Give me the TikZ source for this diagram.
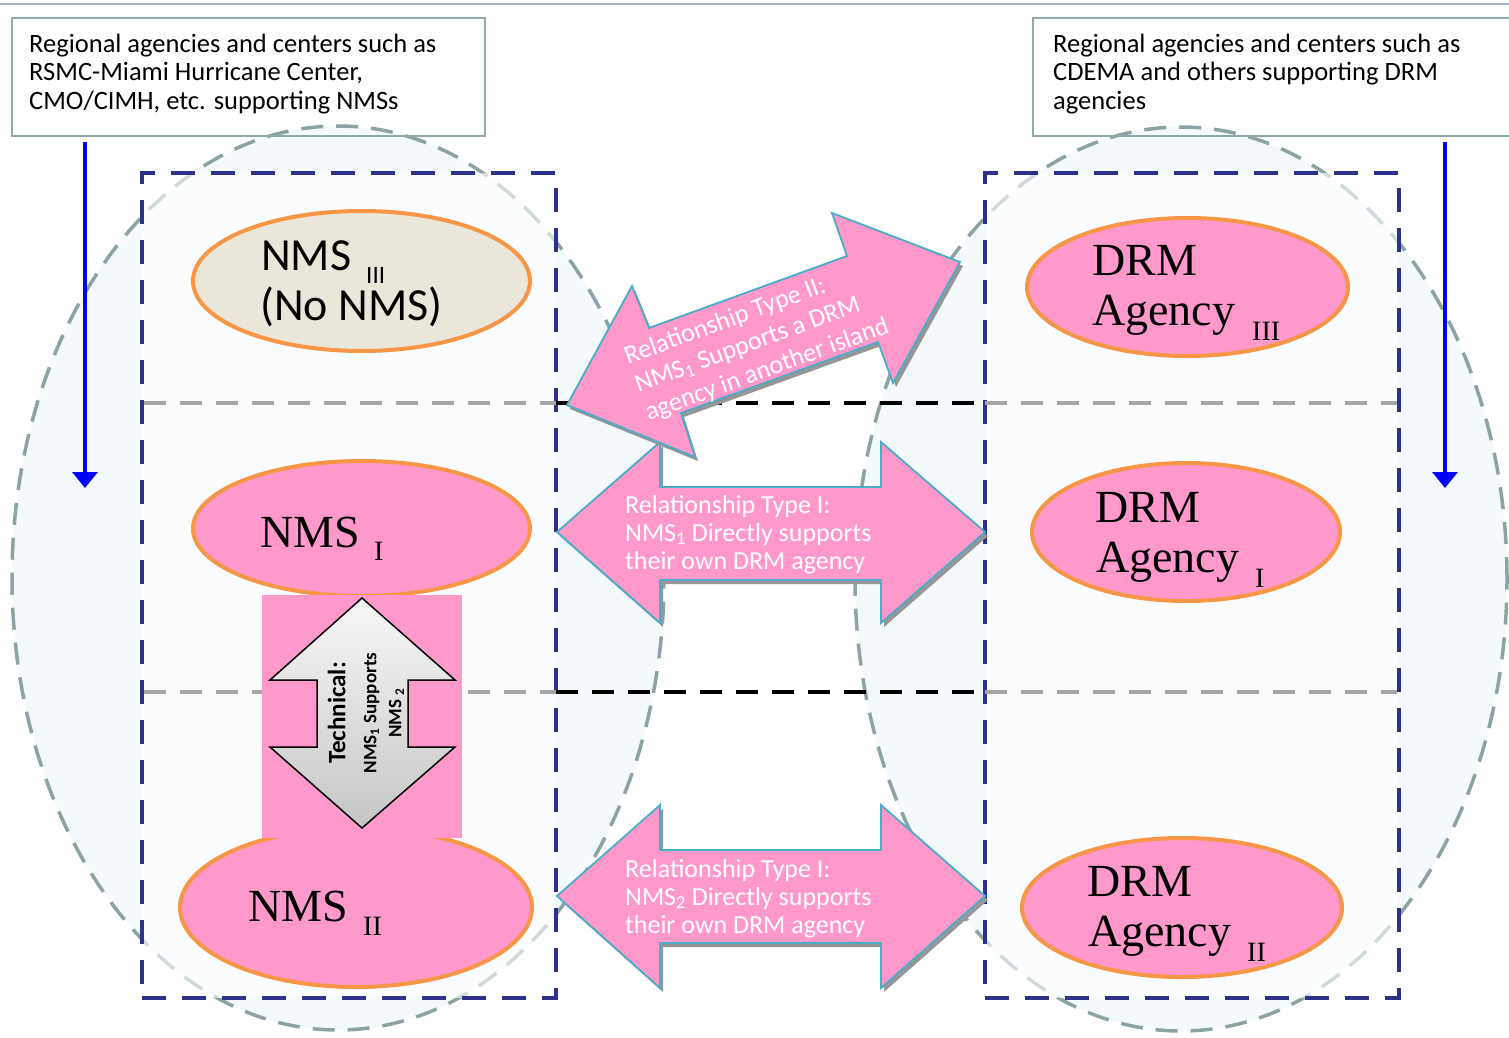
\documentclass[tikz,border=0pt]{standalone}
\usepackage{fontspec}
\setmainfont{Liberation Serif}
\newfontfamily\calfont{Carlito}
\usetikzlibrary{shapes.geometric,arrows.meta}
\definecolor{pinkfill}{RGB}{255,153,204}
\definecolor{orangeb}{RGB}{247,150,70}
\definecolor{beige}{RGB}{234,230,218}
\definecolor{tealb}{RGB}{75,172,198}
\definecolor{navy}{RGB}{46,49,140}
\definecolor{ellgray}{RGB}{140,163,163}
\definecolor{ellfill}{RGB}{244,249,251}
\definecolor{boxb}{RGB}{143,170,170}
\definecolor{topline}{RGB}{167,185,207}
\definecolor{shadowg}{RGB}{150,150,150}
\definecolor{midgray}{RGB}{166,166,166}
\tikzset{
  regbox/.style={draw=boxb, line width=2pt, inner sep=0pt, outer sep=0pt},
  regtext/.style={anchor=base west, inner sep=0pt, font=\calfont\fontsize{26.5}{28}\selectfont},
  bigisl/.style={ellipse, draw=ellgray, fill=ellfill, line width=3.5pt, dash pattern=on 22pt off 13pt, inner sep=0pt, minimum width=652pt, minimum height=904pt},
  navybox/.style={draw=navy, line width=4.5pt, dash pattern=on 24pt off 16pt, fill=white, fill opacity=0.6, draw opacity=1, inner sep=0pt, outer sep=0pt, minimum width=414pt, minimum height=825pt},
  graydash/.style={draw=midgray, line width=4pt, dash pattern=on 22pt off 14pt},
  blackdash/.style={draw=black, line width=4pt, dash pattern=on 22pt off 14pt},
  agency/.style={ellipse, draw=orangeb, line width=4pt, fill=pinkfill, inner sep=0pt},
  serifbig/.style={anchor=base west, inner sep=0pt, font=\fontsize{46}{50}\selectfont},
  serifsub/.style={anchor=base west, inner sep=0pt, font=\fontsize{28}{30}\selectfont},
  bluearrow/.style={draw=blue, line width=3.5pt, -{Triangle[width=25pt,length=16pt]}},
  relarrow/.style={fill=pinkfill, draw=tealb, line width=1.8pt, line join=miter},
  relshadow/.style={fill=shadowg},
  reltext/.style={anchor=base west, inner sep=0pt, text=white, font=\calfont\fontsize{26}{28}\selectfont},
}
\begin{document}
\begin{tikzpicture}[x=1pt,y=-1pt]
\useasboundingbox (0,0) rectangle (1509,1037);
% top rule
\coordinate (tl1) at (0,4);
\coordinate (tl2) at (1509,4);
\draw[topline, line width=2pt] (tl1) -- (tl2);
% big islands
\node[bigisl] (islL) at (338,578) {};
\node[bigisl] (islR) at (1181,579) {};
% regional boxes
\node[regbox, minimum width=473pt, minimum height=118pt] (regL) at (248.5,77) {};
\node[regbox, minimum width=477pt, minimum height=118pt] (regR) at (1271.5,77) {};
\node[regtext] (rl1) at (29,52) {Regional agencies and centers such as};
\node[regtext] (rl2) at (29,80.5) {RSMC-Miami Hurricane Center,};
\node[regtext] (rl3) at (29,109) {CMO/CIMH, etc. supporting NMSs};
\node[regtext] (rr1) at (1053,52) {Regional agencies and centers such as};
\node[regtext] (rr2) at (1053,80.5) {CDEMA and others supporting DRM};
\node[regtext] (rr3) at (1053,109) {agencies};
% blue arrows
\coordinate (bla) at (85,142);
\coordinate (blb) at (85,488);
\coordinate (bra) at (1445,142);
\coordinate (brb) at (1445,488);
\draw[bluearrow] (bla) -- (blb);
\draw[bluearrow] (bra) -- (brb);
% navy boxes
\node[navybox] (boxL) at (349,585.5) {};
\node[navybox] (boxR) at (1192,585.5) {};
% dividers
\coordinate (g1a) at (144,403); \coordinate (g1b) at (556,403);
\coordinate (g1c) at (985,403); \coordinate (g1d) at (1397,403);
\coordinate (g2a) at (144,692); \coordinate (g2b) at (556,692);
\coordinate (g2c) at (985,692); \coordinate (g2d) at (1397,692);
\draw[graydash] (g1a) -- (g1b);
\draw[graydash] (g1c) -- (g1d);
\draw[graydash] (g2a) -- (g2b);
\draw[graydash] (g2c) -- (g2d);
\draw[blackdash] (g1b) -- (g1c);
\draw[blackdash] (g2b) -- (g2c);
% small ellipses
\node[agency, fill=beige, minimum width=337pt, minimum height=140pt] (nms3) at (361.5,281) {};
\node[agency, minimum width=337pt, minimum height=135pt] (nms1) at (361.5,528.5) {};
\node[agency, minimum width=352pt, minimum height=159pt] (nms2) at (356,907.5) {};
\node[agency, minimum width=321pt, minimum height=138pt] (drm3) at (1187.5,287) {};
\node[agency, minimum width=308pt, minimum height=138pt] (drm1) at (1186,532) {};
\node[agency, minimum width=320pt, minimum height=139pt] (drm2) at (1182,907.5) {};
% ellipse texts
\node[anchor=base west, inner sep=0pt, font=\calfont\fontsize{46}{50}\selectfont] (t3a) at (261,270) {NMS};
\node[anchor=base west, inner sep=0pt, font=\calfont\fontsize{25}{26}\selectfont] (t3s) at (366,283) {III};
\node[anchor=base west, inner sep=0pt, font=\calfont\fontsize{46}{50}\selectfont] (t3b) at (260,320) {(No NMS)};
\node[serifbig] (t1a) at (260,547) {NMS};
\node[serifsub] (t1s) at (374,560) {I};
\node[serifbig] (t2a) at (248,921) {NMS};
\node[serifsub] (t2s) at (363,935) {II};
\node[serifbig] (d3a) at (1092,275) {DRM};
\node[serifbig] (d3b) at (1092,325) {Agency};
\node[serifsub] (d3s) at (1252,340) {III};
\node[serifbig] (d1a) at (1095,522) {DRM};
\node[serifbig] (d1b) at (1096,572) {Agency};
\node[serifsub] (d1s) at (1255,587) {I};
\node[serifbig] (d2a) at (1087,896) {DRM};
\node[serifbig] (d2b) at (1088,946) {Agency};
\node[serifsub] (d2s) at (1247,961) {II};
% technical connection
\fill[pinkfill] (262,595) rectangle (462,838);
\path[draw=black, line width=1.5pt, line join=miter, top color=gray!6, bottom color=gray!45]
  (362,598) -- (455,680) -- (408,680) -- (408,747) -- (455,747) -- (362,828)
  -- (270,747) -- (317,747) -- (317,680) -- (270,680) -- cycle;
\node[rotate=90, align=center, inner sep=0pt, font=\calfont\bfseries\fontsize{19}{25}\selectfont] (tech) at (366,713)
  {{\fontsize{25}{25}\selectfont Technical:}\\[6pt]NMS\textsubscript{1} Supports\\NMS \textsubscript{2}};
% relationship type I arrows
\begin{scope}[shift={(3,4)}]
\fill[relshadow] (557,532) -- (660,442) -- (660,487) -- (881,487) -- (881,442) -- (985,532)
  -- (881,623) -- (881,580) -- (660,580) -- (660,623) -- cycle;
\fill[relshadow] (557,896) -- (660,805) -- (660,850) -- (881,850) -- (881,805) -- (985,896)
  -- (881,988) -- (881,943) -- (660,943) -- (660,988) -- cycle;
\end{scope}
\path[relarrow] (557,532) -- (660,442) -- (660,487) -- (881,487) -- (881,442) -- (985,532)
  -- (881,623) -- (881,580) -- (660,580) -- (660,623) -- cycle;
\path[relarrow] (557,896) -- (660,805) -- (660,850) -- (881,850) -- (881,805) -- (985,896)
  -- (881,988) -- (881,943) -- (660,943) -- (660,988) -- cycle;
\node[reltext] (ra1) at (625,513) {Relationship Type I:};
\node[reltext] (ra2) at (625,541) {NMS\textsubscript{1} Directly supports};
\node[reltext] (ra3) at (625,569) {their own DRM agency};
\node[reltext] (rb1) at (625,877) {Relationship Type I:};
\node[reltext] (rb2) at (625,905) {NMS\textsubscript{2} Directly supports};
\node[reltext] (rb3) at (625,933) {their own DRM agency};
% relationship type II arrow
\fill[relshadow, shift={(3,4)}] (567,405) -- (632,286) -- (649,328) -- (847,256) -- (832,213) -- (960,262)
  -- (893,383) -- (878,342) -- (681,413) -- (695,457) -- cycle;
\path[relarrow] (567,405) -- (632,286) -- (649,328) -- (847,256) -- (832,213) -- (960,262)
  -- (893,383) -- (878,342) -- (681,413) -- (695,457) -- cycle;
\node[rotate=20, align=left, inner sep=0pt, text=white, font=\calfont\fontsize{26}{30}\selectfont] (rt2) at (757,342)
  {Relationship Type II:\\NMS\textsubscript{1} Supports a DRM\\agency in another island};
\end{tikzpicture}
\end{document}
